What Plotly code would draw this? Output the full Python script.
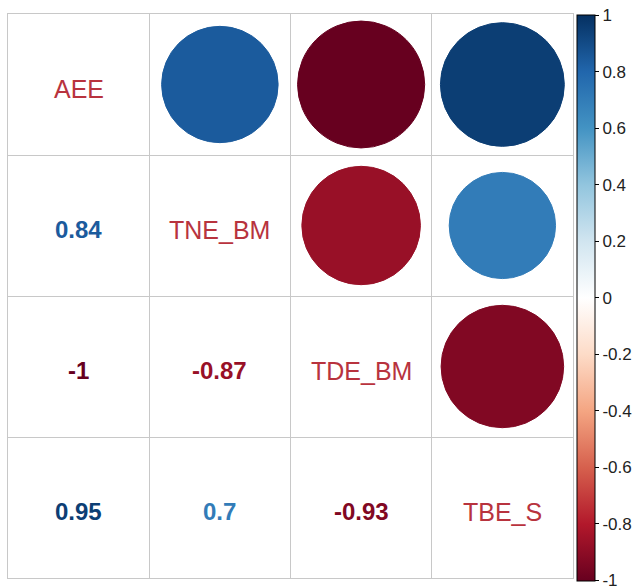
import plotly.graph_objects as go

variables = ["AEE", "TNE_BM", "TDE_BM", "TBE_S"]
corr = [
    [1.00, 0.84, -1.00, 0.95],
    [0.84, 1.00, -0.87, 0.70],
    [-1.00, -0.87, 1.00, -0.93],
    [0.95, 0.70, -0.93, 1.00],
]
palette = ["#67001F", "#B2182B", "#D6604D", "#F4A582", "#FDDBC7", "#FFFFFF",
           "#D1E5F0", "#92C5DE", "#4393C3", "#2166AC", "#053061"]
cbar_vals = [1, 0.8, 0.6, 0.4, 0.2, 0, -0.2, -0.4, -0.6, -0.8, -1]
cbar_text = ["1", "0.8", "0.6", "0.4", "0.2", "0", "-0.2", "-0.4", "-0.6", "-0.8", "-1"]

def hex2rgb(h):
    h = h.lstrip("#")
    return tuple(int(h[i:i + 2], 16) for i in (0, 2, 4))

def color_for(v):
    t = (v + 1) / 2 * (len(palette) - 1)
    i = min(int(t), len(palette) - 2)
    f = t - i
    a, b = hex2rgb(palette[i]), hex2rgb(palette[i + 1])
    c = [round(a[k] + (b[k] - a[k]) * f) for k in range(3)]
    return "rgb(%d,%d,%d)" % tuple(c)

n = len(variables)
fig = go.Figure()
shapes = []
annotations = []
for i in range(n):
    for j in range(n):
        v = corr[i][j]
        x = j + 1
        y = n - i
        if i == j:
            annotations.append(dict(x=x, y=y, text=variables[i], showarrow=False, yshift=-4,
                                    font=dict(family="Liberation Sans, Arial", size=25, color="#B8333E")))
        elif j > i:
            r = 0.45 * abs(v) ** 0.5
            col = color_for(v)
            shapes.append(dict(type="circle", xref="x", yref="y", x0=x - r, x1=x + r,
                               y0=y - r, y1=y + r, fillcolor=col, line=dict(color=col, width=1),
                               layer="above"))
        else:
            annotations.append(dict(x=x, y=y, text="<b>%g</b>" % v, showarrow=False, yshift=-4,
                                    font=dict(family="Liberation Sans, Arial", size=24, color=color_for(v))))

colorscale = [[k / (len(palette) - 1), c] for k, c in enumerate(palette)]
fig.add_trace(go.Scatter(
    x=[None], y=[None], mode="markers",
    marker=dict(color=[0], cmin=-1.002, cmax=1.002, colorscale=colorscale, showscale=True,
                colorbar=dict(x=1.007, xanchor="left", xref="paper", xpad=0, ypad=0,
                              y=0.497, yanchor="middle",
                              len=566, lenmode="pixels", thickness=18,
                              outlinecolor="black", outlinewidth=1,
                              tickvals=cbar_vals, ticktext=cbar_text,
                              ticks="outside", ticklen=4, tickcolor="black",
                              ticklabeloverflow="allow",
                              tickfont=dict(family="Liberation Sans, Arial", size=17, color="#222"))),
    showlegend=False, hoverinfo="skip"))

grid_ticks = [k + 0.5 for k in range(n + 1)]
axis_common = dict(range=[0.5, n + 0.5], tickvals=grid_ticks, showticklabels=False,
                   showgrid=True, gridcolor="#C8C8C8", gridwidth=1, zeroline=False,
                   showline=True, mirror=True, linecolor="#C8C8C8", linewidth=1, ticks="",
                   fixedrange=True)
fig.update_layout(
    width=633, height=587,
    margin=dict(l=8, r=60, t=14, b=9, autoexpand=False),
    paper_bgcolor="white", plot_bgcolor="white",
    xaxis=axis_common, yaxis=axis_common,
    shapes=shapes, annotations=annotations,
    hovermode=False,
)
fig.write_html("out.html", config={"displayModeBar": False},
               post_script="document.body.style.margin='0';document.body.style.overflow='hidden';")
